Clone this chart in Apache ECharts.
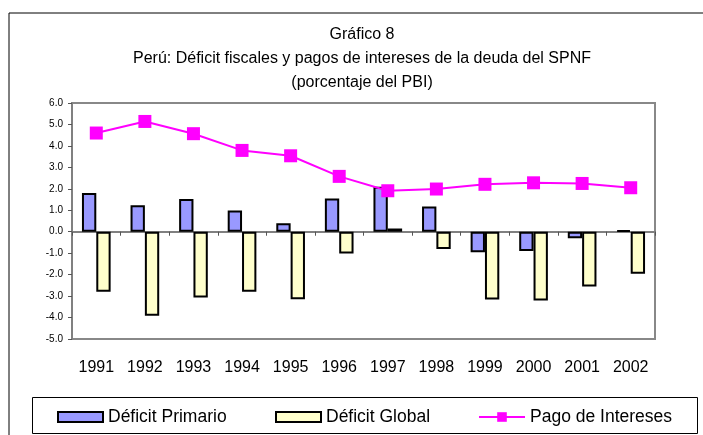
<!DOCTYPE html>
<html>
<head>
<meta charset="utf-8">
<script src="https://cdn.jsdelivr.net/npm/echarts@6/dist/echarts.min.js"></script>
<style>
  html, body { margin: 0; padding: 0; background: #fff; }
  #chart { width: 703px; height: 435px; }
</style>
</head>
<body>
<div id="chart"></div>
<script>
// datos
var years = ['1991','1992','1993','1994','1995','1996','1997','1998','1999','2000','2001','2002'];
var primario = [1.8, 1.23, 1.52, 0.99, 0.39, 1.55, 2.1, 1.18, -0.96, -0.9, -0.3, 0.07];
var global = [-2.8, -3.92, -3.06, -2.8, -3.15, -1.01, 0.15, -0.81, -3.16, -3.2, -2.55, -1.96];
var intereses = [4.6, 5.14, 4.57, 3.79, 3.54, 2.58, 1.91, 1.99, 2.21, 2.28, 2.25, 2.05];

var font = 'Liberation Sans, Arial, sans-serif';
var chart = echarts.init(document.getElementById('chart'));

var legendText = { fontFamily: font, fontSize: 17.5, color: '#000', padding: [6, 0, 0, 0] };

var option = {
    animation: false,
    backgroundColor: '#fff',
    title: {
        text: 'Gráfico 8\nPerú: Déficit fiscales y pagos de intereses de la deuda del SPNF\n(porcentaje del PBI)',
        left: 362,
        top: 23,
        textAlign: 'center',
        padding: 0,
        textStyle: {
            fontFamily: font,
            fontSize: 16,
            fontWeight: 'normal',
            color: '#000',
            lineHeight: 24
        }
    },
    // tres leyendas sueltas para colocar cada elemento
    legend: [
        { data: ['Déficit Primario'], icon: 'rect', left: 57, top: 408, padding: 0,
          itemWidth: 45, itemHeight: 10, textStyle: legendText },
        { data: ['Déficit Global'], icon: 'rect', left: 275, top: 408, padding: 0,
          itemWidth: 45, itemHeight: 10, textStyle: legendText },
        { data: ['Pago de Intereses'], left: 478, top: 408, padding: 0,
          itemWidth: 46, itemHeight: 12, textStyle: legendText }
    ],
    grid: {
        left: 72,
        right: 48,
        top: 103,
        bottom: 96,
        show: true,
        borderColor: '#888',
        borderWidth: 2
    },
    xAxis: [
        {
            type: 'category',
            data: years,
            axisLine: { show: false, onZero: false },
            axisTick: { show: false },
            axisLabel: { fontFamily: font, fontSize: 16, color: '#000', margin: 21 }
        },
        {
            type: 'category',
            data: years,
            position: 'bottom',
            axisLine: { onZero: true, lineStyle: { color: '#808080', width: 2 } },
            axisTick: { show: true, length: 4, lineStyle: { color: '#555' } },
            axisLabel: { show: false }
        }
    ],
    yAxis: {
        type: 'value',
        min: -5,
        max: 6,
        interval: 1,
        axisLine: { show: true, lineStyle: { color: '#808080', width: 2 } },
        axisTick: { show: true, length: 4, lineStyle: { color: '#555' } },
        splitLine: { show: false },
        axisLabel: {
            fontFamily: font, fontSize: 10, color: '#000', margin: 9,
            formatter: function (v) { return v.toFixed(1); }
        }
    },
    series: [
        {
            name: 'Déficit Primario',
            type: 'bar',
            data: primario,
            barGap: '0%',
            barCategoryGap: '41%',
            itemStyle: { color: '#9999FF', borderColor: '#000', borderWidth: 2 }
        },
        {
            name: 'Déficit Global',
            type: 'bar',
            data: global,
            itemStyle: { color: '#FFFFCC', borderColor: '#000', borderWidth: 2 }
        },
        {
            name: 'Pago de Intereses',
            type: 'line',
            data: intereses,
            z: 5,
            symbol: 'rect',
            symbolSize: 13,
            lineStyle: { color: '#FF00FF', width: 2 },
            itemStyle: { color: '#FF00FF' }
        }
    ],
    graphic: [
        { type: 'line', shape: { x1: 9, y1: 13, x2: 703, y2: 13 }, style: { stroke: '#000', lineWidth: 1 } },
        { type: 'line', shape: { x1: 9, y1: 13, x2: 9, y2: 435 }, style: { stroke: '#000', lineWidth: 1 } },
        { type: 'rect', shape: { x: 32.5, y: 397.5, width: 665, height: 36 }, style: { fill: 'none', stroke: '#000', lineWidth: 1 } }
    ]
};

chart.setOption(option);
</script>
</body>
</html>
